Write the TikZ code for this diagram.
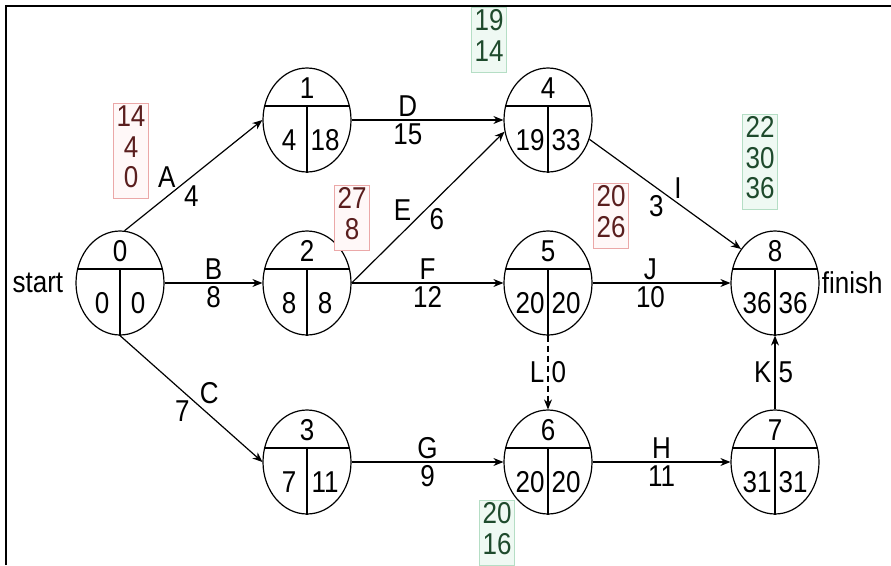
\documentclass[tikz,border=0pt]{standalone}
\usepackage{fontspec}
\usepackage{graphicx}
\setmainfont{Liberation Sans}
\usetikzlibrary{arrows.meta,shapes.geometric}
\definecolor{redtxt}{HTML}{5A1E1E}
\definecolor{redbrd}{HTML}{EBA8A8}
\definecolor{redbg}{HTML}{FFF8F8}
\definecolor{grntxt}{HTML}{1E4A2C}
\definecolor{grnbrd}{HTML}{B5DEC5}
\definecolor{grnbg}{HTML}{EFF9F3}
\newcommand\vs[1]{\scalebox{1}[1.16]{#1}}
\newcommand\stk[1]{\vs{\begin{tabular}{@{}c@{}}#1\end{tabular}}}
\tikzset{
 ev/.style={draw, ellipse, line width=1.2pt, minimum width=88pt, minimum height=104pt, inner sep=0pt},
 num/.style={font=\fontsize{26}{28}\selectfont, inner sep=0pt},
 act/.style={line width=1.2pt, -{Stealth[length=10pt,width=8pt]}},
 dum/.style={act, dash pattern=on 6pt off 4pt},
 lbl/.style={font=\fontsize{26}{28}\selectfont, inner sep=3pt},
 rbox/.style={draw=redbrd, fill=redbg, text=redtxt, font=\fontsize{26}{26}\selectfont, inner xsep=3pt, inner ysep=2pt, line width=0.8pt},
 gbox/.style={draw=grnbrd, fill=grnbg, text=grntxt, font=\fontsize{26}{26}\selectfont, inner xsep=3pt, inner ysep=2pt, line width=0.8pt},
}
\newcommand\evnode[6]{%
 \node[ev] (#1) at (#2,#3) {};
 \draw[line width=1.2pt] ([xshift=-42.4pt,yshift=14pt]#1.center) -- ([xshift=42.4pt,yshift=14pt]#1.center);
 \draw[line width=1.2pt] ([yshift=14pt]#1.center) -- (#1.south);
 \node[num] (#1t) at ([yshift=32pt]#1.center) {\vs{#4}};
 \node[num] (#1l) at ([xshift=-18pt,yshift=-20pt]#1.center) {\vs{#5}};
 \node[num] (#1r) at ([xshift=18pt,yshift=-20pt]#1.center) {\vs{#6}};
}
\begin{document}
\begin{tikzpicture}[x=1pt,y=-1pt]
\useasboundingbox (0,0) rectangle (891,565);
\fill[white] (0,0) rectangle (891,565);
% frame
\draw[line width=2.2pt] (6,565) -- (6,6) -- (891,6);
% events
\evnode{n0}{120}{283}{0}{0}{0}
\evnode{n1}{307}{120}{1}{4}{18}
\evnode{n2}{307}{283}{2}{8}{8}
\evnode{n3}{307}{462}{3}{7}{11}
\evnode{n4}{548}{120}{4}{19}{33}
\evnode{n5}{548}{283}{5}{20}{20}
\evnode{n6}{548}{462}{6}{20}{20}
\evnode{n7}{775}{462}{7}{31}{31}
\evnode{n8}{775}{283}{8}{36}{36}
\node[lbl, anchor=east, inner sep=0pt] (st) at ([xshift=-12pt]n0.west) {\vs{start}};
\node[lbl, anchor=west, inner sep=0pt] (fi) at ([xshift=2pt]n8.east) {\vs{finish}};
% activities
\draw[act] (n0.85) -- (n1.west) node[lbl, pos=.38, above left, inner sep=1pt] (la) {\vs{A}} node[lbl, pos=.42, below right, inner sep=1pt] (la2) {\vs{4}};
\draw[act] (n0) -- (n2) node[lbl, midway, above] (lb) {\vs{B}} node[lbl, midway, below] (lb2) {\vs{8}};
\draw[act] (n0.south) -- (n3.west) node[lbl, pos=.55, above right, inner sep=1pt] (lc) {\vs{C}} node[lbl, pos=.5, below left, inner sep=1pt] (lc2) {\vs{7}};
\draw[act] (n1) -- (n4) node[lbl, pos=.37, above] (ld) {\vs{D}} node[lbl, pos=.37, below] (ld2) {\vs{15}};
\draw[act] (n2.east) -- (n4.195) node[lbl, pos=.4, above left, inner sep=1pt] (le) {\vs{E}} node[lbl, pos=.5, below right, inner sep=1pt] (le2) {\vs{6}};
\draw[act] (n2) -- (n5) node[lbl, midway, above] (lf) {\vs{F}} node[lbl, midway, below] (lf2) {\vs{12}};
\draw[act] (n3) -- (n6) node[lbl, midway, above] (lg) {\vs{G}} node[lbl, midway, below] (lg2) {\vs{9}};
\draw[act] (n6) -- (n7) node[lbl, midway, above] (lh) {\vs{H}} node[lbl, midway, below] (lh2) {\vs{11}};
\draw[act] (n4.-25) -- (n8.135) node[lbl, pos=.55, above right, inner sep=1pt] (li) {\vs{I}} node[lbl, pos=.5, below left, inner sep=1pt] (li2) {\vs{3}};
\draw[act] (n5) -- (n8) node[lbl, pos=.42, above] (lj) {\vs{J}} node[lbl, pos=.42, below] (lj2) {\vs{10}};
\draw[act] (n7) -- (n8) node[lbl, midway, left] (lk) {\vs{K}} node[lbl, midway, right] (lk2) {\vs{5}};
\draw[dum] (n5) -- (n6) node[lbl, midway, left] (ll) {\vs{L}} node[lbl, midway, right] (ll2) {\vs{0}};
% time boxes
\node[rbox] (r1) at (131,151) {\stk{14\\4\\0}};
\node[rbox] (r2) at (352,218) {\stk{27\\8}};
\node[rbox] (r3) at (611,216) {\stk{20\\26}};
\node[gbox] (g1) at (489,40) {\stk{19\\14}};
\node[gbox] (g2) at (497,533) {\stk{20\\16}};
\node[gbox] (g3) at (760,162) {\stk{22\\30\\36}};
\end{tikzpicture}
\end{document}
